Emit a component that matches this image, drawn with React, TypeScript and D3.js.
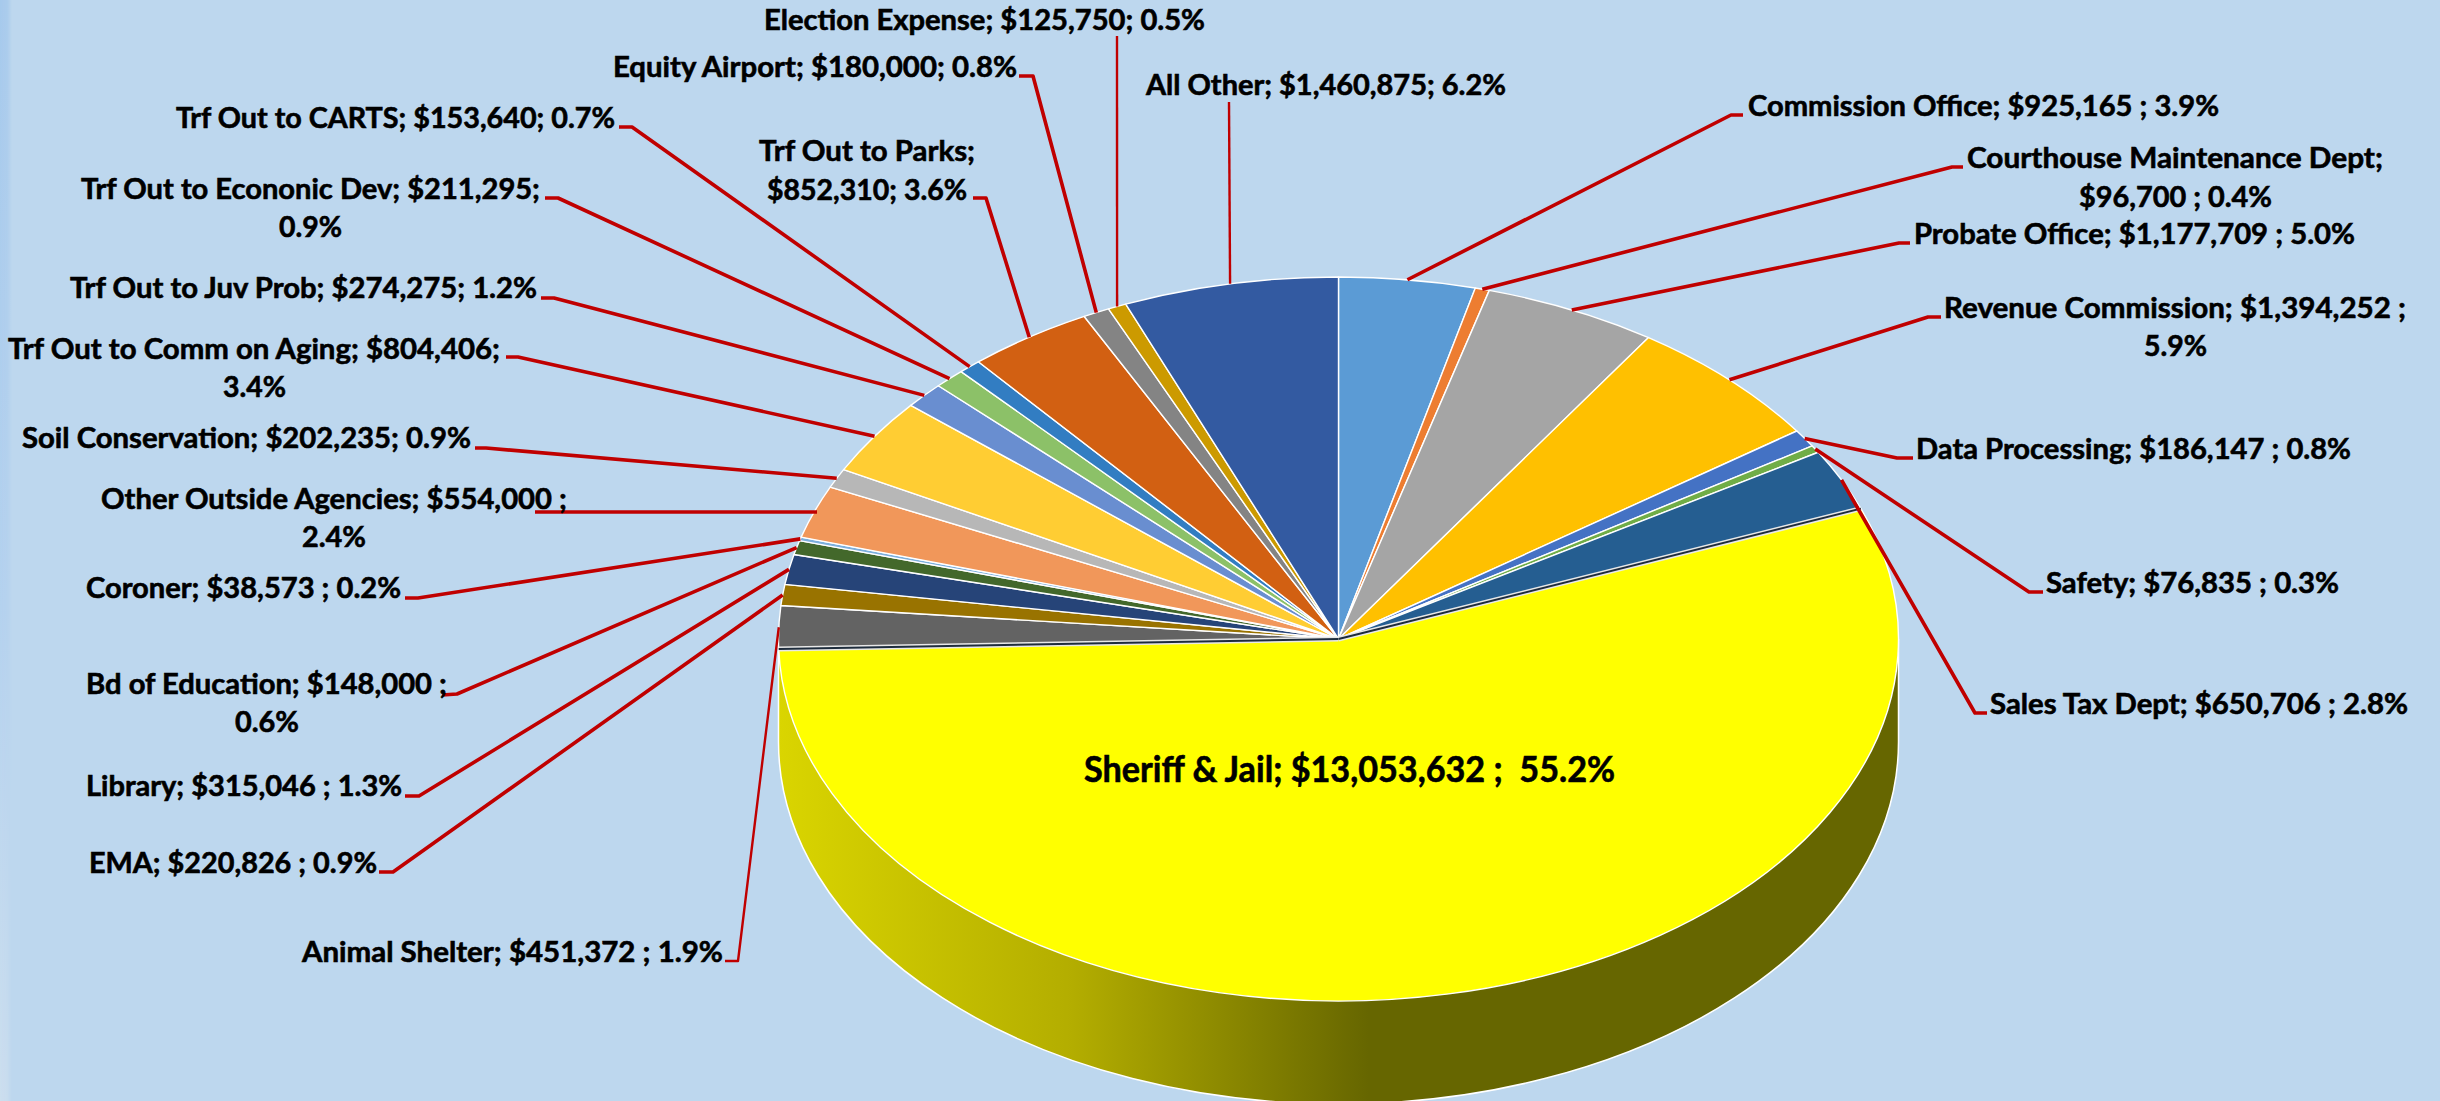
import React from "react";
import * as d3 from "d3";

const W = 2440;
const H = 1101;

const categories = [
  "Commission Office", "Courthouse Maintenance Dept", "Probate Office", "Revenue Commission",
  "Data Processing", "Safety", "Sales Tax Dept", "Sheriff & Jail", "Animal Shelter", "EMA",
  "Library", "Bd of Education", "Coroner", "Other Outside Agencies", "Soil Conservation",
  "Trf Out to Comm on Aging", "Trf Out to Juv Prob", "Trf Out to Econonic Dev", "Trf Out to CARTS",
  "Trf Out to Parks", "Equity Airport", "Election Expense", "All Other",
];
const values = [
  925165, 96700, 1177709, 1394252, 186147, 76835, 650706, 13053632, 451372, 220826,
  315046, 148000, 38573, 554000, 202235, 804406, 274275, 211295, 153640, 852310, 180000, 125750, 1460875,
];
const colors = [
  "#5B9BD5", "#ED7D31", "#A5A5A5", "#FFC000", "#4472C4", "#70AD47", "#255E91", "#FFFF00", "#636363", "#997300",
  "#264478", "#43682B", "#7CAFDD", "#F1975A", "#B7B7B7", "#FFCD33", "#698ED0", "#8CC168", "#327DC2",
  "#D26012", "#848484", "#CC9A00", "#335AA1",
];
const labelText = [
  ["Commission Office; $925,165 ; 3.9%"],
  ["Courthouse Maintenance Dept;", "$96,700 ; 0.4%"],
  ["Probate Office; $1,177,709 ; 5.0%"],
  ["Revenue Commission; $1,394,252 ;", "5.9%"],
  ["Data Processing; $186,147 ; 0.8%"],
  ["Safety; $76,835 ; 0.3%"],
  ["Sales Tax Dept; $650,706 ; 2.8%"],
  ["Sheriff & Jail; $13,053,632 ;  55.2%"],
  ["Animal Shelter; $451,372 ; 1.9%"],
  ["EMA; $220,826 ; 0.9%"],
  ["Library; $315,046 ; 1.3%"],
  ["Bd of Education; $148,000 ;", "0.6%"],
  ["Coroner; $38,573 ; 0.2%"],
  ["Other Outside Agencies; $554,000 ;", "2.4%"],
  ["Soil Conservation; $202,235; 0.9%"],
  ["Trf Out to Comm on Aging; $804,406;", "3.4%"],
  ["Trf Out to Juv Prob; $274,275; 1.2%"],
  ["Trf Out to Econonic Dev; $211,295;", "0.9%"],
  ["Trf Out to CARTS; $153,640; 0.7%"],
  ["Trf Out to Parks;", "$852,310; 3.6%"],
  ["Equity Airport; $180,000; 0.8%"],
  ["Election Expense; $125,750; 0.5%"],
  ["All Other; $1,460,875; 6.2%"],
];
// label placement per line: [x0, x1, baseline]
const labelBoxes: number[][][] = [
  [[1748, 2219, 116]],
  [[1967, 2383, 168], [2079, 2272, 207]],
  [[1914, 2355, 244]],
  [[1944, 2406, 318], [2144, 2207, 356]],
  [[1916, 2351, 459]],
  [[2046, 2339, 593]],
  [[1990, 2408, 714]],
  [[1084, 1615, 782]],
  [[302, 723, 962]],
  [[89, 377, 873]],
  [[86, 402, 796]],
  [[86, 447, 694], [235, 299, 732]],
  [[86, 401, 598]],
  [[101, 567, 509], [302, 366, 547]],
  [[22, 471, 448]],
  [[8, 500, 359], [223, 286, 397]],
  [[70, 537, 298]],
  [[81, 540, 199], [279, 342, 237]],
  [[176, 615, 128]],
  [[759, 975, 161], [767, 967, 200]],
  [[613, 1017, 77]],
  [[764, 1205, 30]],
  [[1146, 1506, 95]],
];
// leader start and elbow next to each label; the slice end comes from the pie
const leaderStart: (number[] | null)[][] = [
  [[1743, 115], [1731, 115]],
  [[1963, 167], [1952, 167]],
  [[1910, 243], [1899, 243]],
  [[1941, 317], [1928, 317]],
  [[1913, 458], [1897, 458]],
  [[2043, 592], [2029, 592]],
  [[1987, 713], [1975, 713]],
  [],
  [[725, 961], [738, 961]],
  [[379, 872], [393, 872]],
  [[405, 796], [419, 796]],
  [[442, 695], [457, 694]],
  [[405, 598], [418, 598]],
  [[535, 512]],
  [[475, 448], [486, 448]],
  [[506, 357], [518, 357]],
  [[541, 298], [554, 298]],
  [[545, 198], [558, 198]],
  [[619, 127], [632, 127]],
  [[973, 198], [986, 198]],
  [[1019, 76], [1033, 76]],
  [[1117, 36]],
  [[1229, 102]],
];
const thinLeaders = ["Election Expense", "All Other", "Animal Shelter"];
const leaderEndOverride: Record<string, number[]> = { "Other Outside Agencies": [817, 512] };

const cx = 1338.5;
const cy = 639;
const rx = 560;
const ry = 362;
const depth = 103;
const yScale = ry / rx;

const FONT = "Lato, Carlito, Calibri, sans-serif";

export default function App() {
  const pieGen = d3.pie<number>().sort(null).value((d) => d);
  const arcs = pieGen(values);
  const radius = d3.scaleLinear().domain([0, 1]).range([0, rx]);
  const arcGen = d3.arc<d3.PieArcDatum<number>>().innerRadius(0).outerRadius(radius(1));

  const onRim = (angle: number, r = 1) => [
    cx + Math.sin(angle) * radius(r),
    cy - Math.cos(angle) * radius(r) * yScale,
  ];

  const side = d3.path();
  side.moveTo(-rx, -depth / yScale);
  side.lineTo(-rx, 0);
  side.arc(0, 0, rx, Math.PI, 0, true);
  side.lineTo(rx, -depth / yScale);

  const line = d3.line();
  const sheriff = arcs[categories.indexOf("Sheriff & Jail")];
  const seams = [sheriff.startAngle, sheriff.endAngle];

  return (
    <svg
      width={W}
      height={H}
      viewBox={`0 0 ${W} ${H}`}
      style={{ position: "fixed", left: 0, top: 0, display: "block" }}
    >
      <defs>
        <linearGradient id="sideFill" gradientUnits="userSpaceOnUse" x1={-rx} y1={0} x2={30} y2={0}>
          <stop offset="0" stopColor="#DAD500" />
          <stop offset="0.5" stopColor="#B3AD00" />
          <stop offset="1" stopColor="#666600" />
        </linearGradient>
        <linearGradient id="edgeFill" x1="0" y1="0" x2="0" y2="1">
          <stop offset="0" stopColor="#A6C9EC" />
          <stop offset="0.55" stopColor="#B4D1EE" />
          <stop offset="1" stopColor="#CCDEEE" />
        </linearGradient>
        <linearGradient id="edgeFade" x1="0" y1="0" x2="1" y2="0">
          <stop offset="0" stopColor="#fff" stopOpacity="1" />
          <stop offset="0.6" stopColor="#fff" stopOpacity="0.8" />
          <stop offset="1" stopColor="#fff" stopOpacity="0" />
        </linearGradient>
        <mask id="edgeMask">
          <rect x={0} y={0} width={12} height={H} fill="url(#edgeFade)" />
        </mask>
      </defs>
      <rect x={0} y={0} width={W} height={H} fill="#BDD7EE" />
      <rect x={0} y={0} width={12} height={H} fill="url(#edgeFill)" mask="url(#edgeMask)" />

      <path
        d={side.toString()}
        transform={`translate(${cx},${cy + depth}) scale(1,${yScale})`}
        fill="url(#sideFill)"
        stroke="#fff"
        strokeWidth={1.5}
        vectorEffect="non-scaling-stroke"
      />

      <g transform={`translate(${cx},${cy}) scale(1,${yScale})`}>
        {arcs.map((a, i) => (
          <path
            key={categories[i]}
            d={arcGen(a) as string}
            fill={colors[i]}
            stroke="#fff"
            strokeWidth={1.4}
            strokeLinejoin="round"
            vectorEffect="non-scaling-stroke"
          />
        ))}
      </g>

      {seams.map((angle, i) => {
        const tip = onRim(angle);
        const d = line([[cx, cy], [tip[0], tip[1]]]) as string;
        return (
          <g key={i}>
            <path d={d} stroke="#E8E8E8" strokeWidth={5} fill="none" />
            <path d={d} stroke="#1E2C3C" strokeWidth={2} fill="none" />
          </g>
        );
      })}

      <g fill="none" stroke="#C00000" strokeLinejoin="round">
        {arcs.map((a, i) => {
          const start = leaderStart[i] as number[][];
          if (!start.length) return null;
          const name = categories[i];
          const end = leaderEndOverride[name] ?? onRim((a.startAngle + a.endAngle) / 2);
          const pts = [...start, end] as [number, number][];
          return (
            <path
              key={name}
              d={line(pts) as string}
              strokeWidth={thinLeaders.includes(name) ? 2.4 : 3.6}
            />
          );
        })}
      </g>

      <g fontFamily={FONT} fontWeight={700} fill="#000" stroke="#000" strokeWidth={0.6}>
        {labelText.map((lines, i) =>
          lines.map((t, j) => {
            const [x0, x1, y] = labelBoxes[i][j];
            const big = categories[i] === "Sheriff & Jail";
            return (
              <text
                key={`${i}-${j}`}
                x={x0}
                y={y}
                fontSize={big ? 36 : 28.5}
                textLength={x1 - x0}
                lengthAdjust="spacingAndGlyphs"
                xmlSpace="preserve"
              >
                {t}
              </text>
            );
          })
        )}
      </g>
    </svg>
  );
}
